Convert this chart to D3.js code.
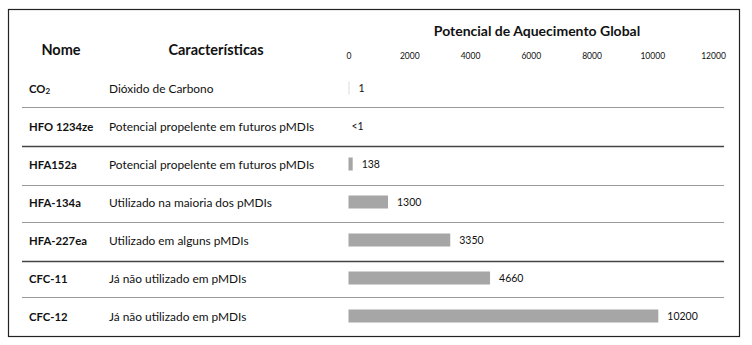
<!DOCTYPE html>
<html><head><meta charset="utf-8">
<script src="https://cdn.jsdelivr.net/npm/d3@7/dist/d3.min.js"></script>
<style>
body{margin:0;background:#fff;}
text{font-family:Lato,"Open Sans",sans-serif;fill:#111;}
</style></head>
<body><svg id="c" width="752" height="345"></svg>
<script>
const names = ["CO2", "HFO 1234ze", "HFA152a", "HFA-134a", "HFA-227ea", "CFC-11", "CFC-12"];
const descriptions = ["Dióxido de Carbono", "Potencial propelente em futuros pMDIs", "Potencial propelente em futuros pMDIs",
  "Utilizado na maioria dos pMDIs", "Utilizado em alguns pMDIs", "Já não utilizado em pMDIs", "Já não utilizado em pMDIs"];
const gwp = [1, null, 138, 1300, 3350, 4660, 10200];
const gwpLabels = ["1", "<1", "138", "1300", "3350", "4660", "10200"];
const ticks = [0, 2000, 4000, 6000, 8000, 10000, 12000];
const separatorDark = [false, true, false, false, true, false];

const svg = d3.select("#c");
svg.append("rect").attr("x", 8.5).attr("y", 9.5).attr("width", 731).attr("height", 327)
  .attr("fill", "none").attr("stroke", "#222").attr("stroke-width", 1.2);

const x = d3.scaleLinear().domain([0, 12000]).range([348.5, 713]);
const y = d3.scalePoint().domain(names).range([88, 316]);

// headers
svg.append("text").attr("x", 61).attr("y", 55).attr("text-anchor", "middle")
  .attr("font-weight", "bold").attr("font-size", 14.5).text("Nome");
svg.append("text").attr("x", 216).attr("y", 55).attr("text-anchor", "middle")
  .attr("font-weight", "bold").attr("font-size", 14.5).text("Características");
svg.append("text").attr("x", 537).attr("y", 36).attr("text-anchor", "middle")
  .attr("font-weight", "bold").attr("font-size", 14).text("Potencial de Aquecimento Global");

// axis tick labels
const axis = d3.axisTop(x).tickValues(ticks).tickSize(0).tickPadding(0).tickFormat(d3.format("d"));
const ag = svg.append("g").attr("transform", "translate(0,59)").call(axis);
ag.select(".domain").remove();
ag.selectAll("text").attr("font-size", 8.5).attr("font-family", "Lato, sans-serif").attr("fill", "#111");

// separators
const sepY = [107, 147, 186, 222, 262, 297];
const step = y.step();
names.slice(0, -1).forEach((n, i) => {
  const yy = Math.round((y(n) + step / 2 + sepY[i]) / 2) + 0.5;
  svg.append("line").attr("x1", 22).attr("x2", 724).attr("y1", yy).attr("y2", yy)
    .attr("stroke", separatorDark[i] ? "#444" : "#9a9a9a").attr("stroke-width", separatorDark[i] ? 1.4 : 1.1);
});

// names & descriptions
names.forEach((n, i) => {
  const t = svg.append("text").attr("x", 29).attr("y", y(n) + 4.5)
    .attr("font-weight", "bold").attr("font-size", 11.3);
  if (n === "CO2") { t.text("CO"); t.append("tspan").attr("font-size", 8).attr("dy", 1).text("2"); }
  else t.text(n);
  svg.append("text").attr("x", 109).attr("y", y(n) + 4.5).attr("font-size", 11.9).text(descriptions[i]);
});

// bars
names.forEach((n, i) => {
  const v = gwp[i];
  let end = x(0) + 3;
  if (v !== null) {
    const w = Math.max(1, x(v) - x(0));
    svg.append("rect").attr("x", x(0)).attr("y", y(n) - 6.5).attr("width", w).attr("height", 13)
      .attr("fill", v < 50 ? "#dcdcdc" : "#a6a6a6");
    end = x(0) + w + 9;
  }
  svg.append("text").attr("x", end).attr("y", y(n) + 4).attr("font-size", 10.5).text(gwpLabels[i]);
});
</script></body></html>
